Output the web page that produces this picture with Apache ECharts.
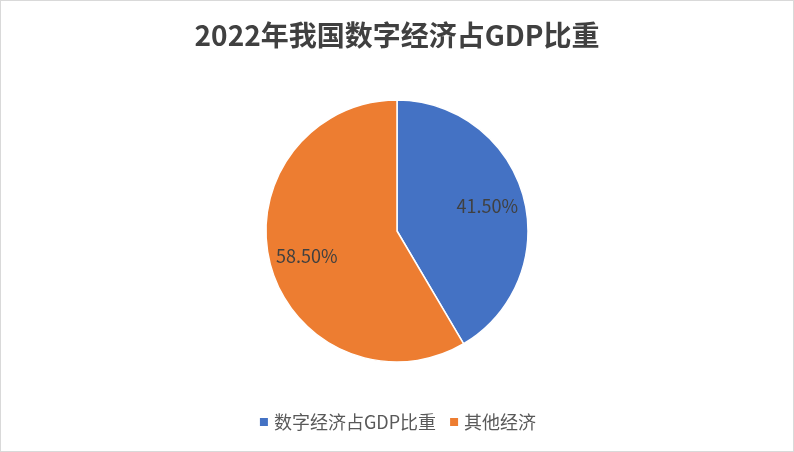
<!DOCTYPE html>
<html lang="zh">
  <head>
    <meta charset="UTF-8" />
    <title>2022年我国数字经济占GDP比重</title>
    <style>
      html, body { margin: 0; padding: 0; background: #fff; }
      #main {
        width: 792px;
        height: 450px;
        border: 1px solid #d9d9d9;
      }
    </style>
  </head>
  <body>
    <div id="main"></div>
    <script src="https://cdn.jsdelivr.net/npm/echarts@6/dist/echarts.min.js"></script>
    <script>
      const myChart = echarts.init(document.getElementById('main'))

      var categories = ['数字经济占GDP比重', '其他经济']
      var values = [41.5, 58.5]
      var colors = ['#4472c4', '#ed7d31']

      var pieData = categories.map(function (name, i) {
        return { name: name, value: values[i], itemStyle: { color: colors[i] } }
      })

      var font = '"Noto Sans CJK SC", "Microsoft YaHei", sans-serif'

      var option = {
        backgroundColor: '#fff',
        title: {
          text: '2022年我国数字经济占GDP比重',
          left: 'center',
          top: 15,
          textStyle: {
            fontFamily: font,
            fontSize: 28,
            fontWeight: 'bold',
            color: '#404040'
          }
        },
        legend: {
          bottom: 15,
          left: 'center',
          itemWidth: 10,
          itemHeight: 10,
          itemGap: 12,
          icon: 'rect',
          selectedMode: false,
          textStyle: {
            fontFamily: font,
            fontSize: 18,
            color: '#595959'
          },
          data: categories
        },
        series: [
          {
            // 主饼图
            type: 'pie',
            center: [396, 230],
            radius: [0, 131],
            startAngle: 90,
            clockwise: true,
            silent: true,
            label: { show: false },
            labelLine: { show: false },
            itemStyle: { borderColor: '#fff', borderWidth: 1.5 },
            data: pieData
          },
          {
            // 透明的一层，只用来放标签
            type: 'pie',
            center: [396, 230],
            radius: [50, 131],
            startAngle: 90,
            clockwise: true,
            silent: true,
            legendHoverLink: false,
            itemStyle: { color: 'transparent' },
            label: {
              show: true,
              position: 'inside',
              fontFamily: font,
              fontSize: 18,
              color: '#404040',
              formatter: function (p) {
                return p.value.toFixed(2) + '%'
              }
            },
            labelLine: { show: false },
            data: categories.map(function (name, i) {
              return { name: name + ' ', value: values[i] }
            })
          }
        ]
      }

      myChart.setOption(option)
    </script>
  </body>
</html>
